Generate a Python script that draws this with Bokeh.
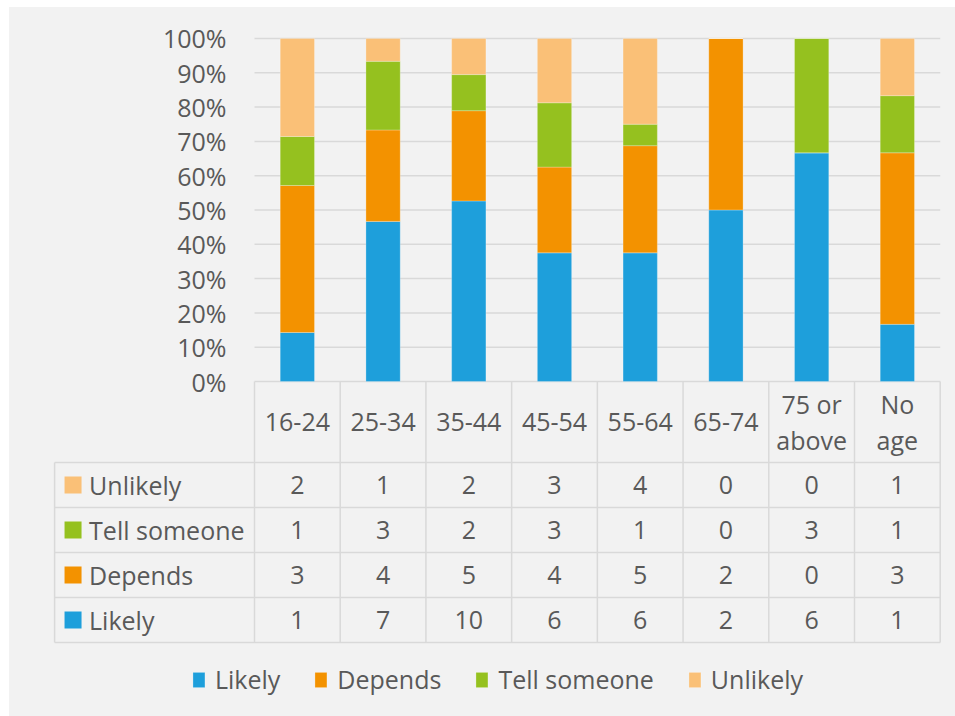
import numpy as np
from bokeh.plotting import figure
from bokeh.models import ColumnDataSource, Range1d, FixedTicker, PrintfTickFormatter
from bokeh.embed import file_html
from bokeh.resources import INLINE
from bokeh.core.properties import value

# ---------------- data ----------------
categories = ["16-24", "25-34", "35-44", "45-54", "55-64", "65-74", "75 or\nabove", "No\nage"]
series = ["Likely", "Depends", "Tell someone", "Unlikely"]
likely = [1, 7, 10, 6, 6, 2, 6, 1]
depends = [3, 4, 5, 4, 5, 2, 0, 3]
tell_someone = [1, 3, 2, 3, 1, 0, 3, 1]
unlikely = [2, 1, 2, 3, 4, 0, 0, 1]
y_ticks = [0, 10, 20, 30, 40, 50, 60, 70, 80, 90, 100]
colors = ["#1E9FDB", "#F39200", "#95C11F", "#FAC077"]

# ---------------- styling / layout ----------------
FONT = "Open Sans"
FS = "25px"
TXT = "#595959"
LINE = "#D9D9D9"
BG = "#F2F2F2"
LABEL_W = 2.332      # width of table label column, in category units
HEADER_H = 23.6      # header row height, in % units
ROW_H = 13.12        # body row height, in % units

counts = np.array([likely, depends, tell_someone, unlikely], dtype=float)
totals = counts.sum(axis=0)
pct = counts / totals * 100.0

n = len(categories)
xc = np.arange(n) + 0.5
data = dict(x=xc)
for s, row in zip(series, pct):
    data[s] = row
src = ColumnDataSource(data)

p = figure(width=946, height=709, output_backend="svg", toolbar_location=None,
           x_range=Range1d(-2.38, 8.05), y_range=Range1d(-93.0, 100.58),
           min_border_left=41, min_border_right=11, min_border_top=29, min_border_bottom=16,
           x_axis_location=None)
p.margin = (7, 0, 0, 9)
p.styles = {"background-color": BG}
p.background_fill_color = BG
p.border_fill_color = BG
p.outline_line_color = None
p.grid.visible = False

# y axis drawn inside the plot area using a negative standoff
ya = p.yaxis[0]
ya.ticker = FixedTicker(ticks=y_ticks)
ya.formatter = PrintfTickFormatter(format="%d%%")
ya.axis_line_color = None
ya.major_tick_line_color = None
ya.minor_tick_line_color = None
ya.major_tick_out = 0
ya.major_label_standoff = -176
ya.major_label_text_font = FONT
ya.major_label_text_font_size = FS
ya.major_label_text_color = TXT

# gridlines over the chart area
p.segment(x0=[0] * len(y_ticks), x1=[n] * len(y_ticks), y0=y_ticks, y1=y_ticks,
          line_color=LINE, line_width=1.5)

# stacked bars
rs = p.vbar_stack(series, x="x", width=0.4, color=colors, source=src,
                  line_color="white", line_alpha=0.25, line_width=1,
                  legend_label=series)

# ---------------- table ----------------
row_edges = [-HEADER_H - ROW_H * k for k in range(5)]
bottom = row_edges[-1]
p.segment(x0=[-LABEL_W] * 5, x1=[n] * 5, y0=row_edges, y1=row_edges,
          line_color=LINE, line_width=1.5)
p.segment(x0=list(range(n + 1)), x1=list(range(n + 1)), y0=[0] * (n + 1), y1=[bottom] * (n + 1),
          line_color=LINE, line_width=1.5)
p.segment(x0=[-LABEL_W], x1=[-LABEL_W], y0=[-HEADER_H], y1=[bottom],
          line_color=LINE, line_width=1.5)

# header labels
p.text(x=xc, y=[-HEADER_H / 2] * n, text=categories, text_align="center",
       text_baseline="middle", text_font=value(FONT), text_font_size=FS,
       text_color=TXT, text_line_height=1.08)

# rows: top to bottom = Unlikely, Tell someone, Depends, Likely
row_order = [3, 2, 1, 0]
row_y = [-HEADER_H - ROW_H * (k + 0.5) for k in range(4)]
p.scatter(x=[-2.117] * 4, y=row_y, marker="square", size=17,
          color=[colors[i] for i in row_order], line_color=None)
p.text(x=[-1.93] * 4, y=row_y, text=[series[i] for i in row_order], text_align="left",
       text_baseline="middle", text_font=value(FONT), text_font_size=FS, text_color=TXT)

cx, cy, ct = [], [], []
for k, i in enumerate(row_order):
    for j in range(n):
        cx.append(xc[j])
        cy.append(row_y[k])
        ct.append(str(int(counts[i, j])))
p.text(x=cx, y=cy, text=ct, text_align="center", text_baseline="middle",
       text_font=value(FONT), text_font_size=FS, text_color=TXT)

# ---------------- legend ----------------
lg = p.legend[0]
lg.orientation = "horizontal"
lg.location = "bottom_center"
lg.background_fill_alpha = 0
lg.border_line_color = None
lg.label_text_font = FONT
lg.label_text_font_size = FS
lg.label_text_color = TXT
lg.glyph_width = 15
lg.glyph_height = 19
lg.label_standoff = 9
lg.spacing = 33
lg.padding = 0
lg.margin = 4
lg.label_height = 30

open("out.html", "w").write(file_html(p, INLINE))
